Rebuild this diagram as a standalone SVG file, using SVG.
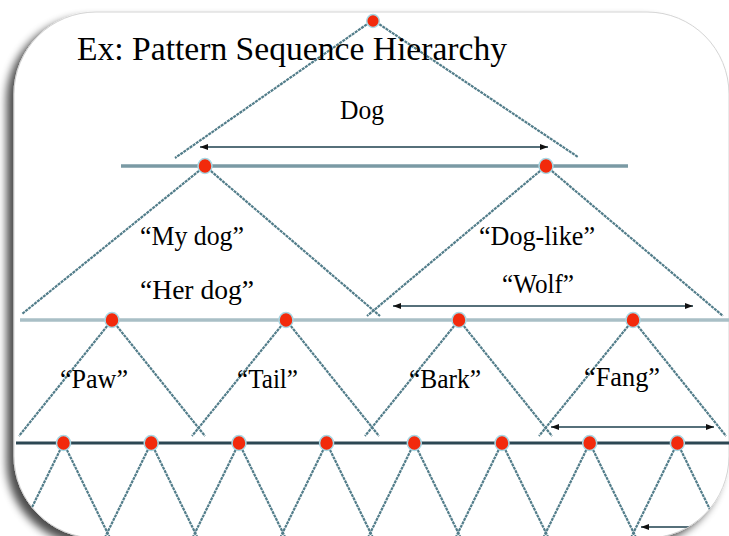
<svg xmlns="http://www.w3.org/2000/svg" width="729" height="536" viewBox="0 0 729 536">
<defs>
<filter id="sh" x="-10%" y="-10%" width="120%" height="120%">
<feGaussianBlur in="SourceAlpha" stdDeviation="4"/>
<feOffset dx="-7" dy="6" result="b"/>
<feComponentTransfer><feFuncA type="linear" slope="0.7"/></feComponentTransfer>
<feMerge><feMergeNode/><feMergeNode in="SourceGraphic"/></feMerge>
</filter>
<clipPath id="frameClip"><rect x="14" y="12" width="715" height="526" rx="82" ry="82"/></clipPath>
<marker id="ah" viewBox="0 0 8 6" refX="8" refY="3" markerWidth="8" markerHeight="6" markerUnits="userSpaceOnUse" orient="auto-start-reverse">
<path d="M0,0 L8,3 L0,6 z" fill="#111"/>
</marker>
<style>
.edge{stroke:#527d8a;stroke-width:2.2;fill:none;stroke-dasharray:3 0.8}
.bar1{stroke:#7a9aa4;stroke-width:3.5}
.bar2{stroke:#a9bfc6;stroke-width:3.5}
.bar3{stroke:#2c4753;stroke-width:3}
.arr{stroke:#56707a;stroke-width:2.2;fill:none}
.node{fill:#f22a0c;stroke:#a8d8e4;stroke-width:1.5}
text{font-family:"Liberation Serif","Times New Roman",serif;fill:#000}
.lbl{font-size:28px}
.title{font-size:34px}
</style>
</defs>
<rect x="0" y="0" width="729" height="536" fill="#ffffff"/>
<rect x="14" y="12" width="715" height="526" rx="82" ry="82" fill="#ffffff" stroke="#d4d4d4" stroke-width="1" filter="url(#sh)"/>
<g clip-path="url(#frameClip)">
<g id="connectors">
<line class="edge" x1="373" y1="20" x2="175" y2="158"/>
<line class="edge" x1="373" y1="20" x2="578" y2="157"/>
<line class="bar1" x1="121" y1="166" x2="628" y2="166"/>
<line class="edge" x1="205" y1="166" x2="22" y2="314"/>
<line class="edge" x1="205" y1="166" x2="380" y2="316"/>
<line class="edge" x1="546" y1="166" x2="367" y2="316"/>
<line class="edge" x1="546" y1="166" x2="723" y2="316"/>
<line class="bar2" x1="20" y1="320" x2="729" y2="320"/>
<line class="edge" x1="112" y1="320" x2="19" y2="436"/>
<line class="edge" x1="112" y1="320" x2="205" y2="436"/>
<line class="edge" x1="286" y1="320" x2="192" y2="436"/>
<line class="edge" x1="286" y1="320" x2="379" y2="436"/>
<line class="edge" x1="459" y1="320" x2="365" y2="436"/>
<line class="edge" x1="459" y1="320" x2="552" y2="436"/>
<line class="edge" x1="633" y1="320" x2="539" y2="436"/>
<line class="edge" x1="633" y1="320" x2="726" y2="436"/>
<line class="bar3" x1="16" y1="443" x2="729" y2="443"/>
<line class="edge" x1="63.5" y1="443" x2="15.5" y2="541"/>
<line class="edge" x1="63.5" y1="443" x2="111.5" y2="541"/>
<line class="edge" x1="151.2" y1="443" x2="103.2" y2="541"/>
<line class="edge" x1="151.2" y1="443" x2="199.2" y2="541"/>
<line class="edge" x1="239" y1="443" x2="191" y2="541"/>
<line class="edge" x1="239" y1="443" x2="287" y2="541"/>
<line class="edge" x1="326.6" y1="443" x2="278.6" y2="541"/>
<line class="edge" x1="326.6" y1="443" x2="374.6" y2="541"/>
<line class="edge" x1="414.3" y1="443" x2="366.3" y2="541"/>
<line class="edge" x1="414.3" y1="443" x2="462.3" y2="541"/>
<line class="edge" x1="502" y1="443" x2="454" y2="541"/>
<line class="edge" x1="502" y1="443" x2="550" y2="541"/>
<line class="edge" x1="589.7" y1="443" x2="541.7" y2="541"/>
<line class="edge" x1="589.7" y1="443" x2="637.7" y2="541"/>
<line class="edge" x1="677.4" y1="443" x2="629.4" y2="541"/>
<line class="edge" x1="677.4" y1="443" x2="725.4" y2="541"/>
<line class="arr" x1="200" y1="147" x2="548" y2="147" marker-start="url(#ah)" marker-end="url(#ah)"/>
<line class="arr" x1="393" y1="306" x2="693" y2="306" marker-start="url(#ah)" marker-end="url(#ah)"/>
<line class="arr" x1="551" y1="427" x2="714" y2="427" marker-start="url(#ah)" marker-end="url(#ah)"/>
<line class="arr" x1="641" y1="527" x2="740" y2="527" marker-start="url(#ah)"/>
</g>
<g id="n-root"><ellipse class="node" cx="373" cy="21" rx="6.3" ry="6.5"/></g>
<g id="n-dog1"><ellipse class="node" cx="205" cy="166" rx="7" ry="7.5"/></g>
<g id="n-dog2"><ellipse class="node" cx="546" cy="166" rx="7" ry="7.5"/></g>
<g id="n-l2a"><ellipse class="node" cx="112" cy="320" rx="7" ry="7.5"/></g>
<g id="n-l2b"><ellipse class="node" cx="286" cy="320" rx="7" ry="7.5"/></g>
<g id="n-l2c"><ellipse class="node" cx="459" cy="320" rx="7" ry="7.5"/></g>
<g id="n-l2d"><ellipse class="node" cx="633" cy="320" rx="7" ry="7.5"/></g>
<g id="n-l3a"><ellipse class="node" cx="63.5" cy="443" rx="7" ry="7.5"/></g>
<g id="n-l3b"><ellipse class="node" cx="151.2" cy="443" rx="7" ry="7.5"/></g>
<g id="n-l3c"><ellipse class="node" cx="239" cy="443" rx="7" ry="7.5"/></g>
<g id="n-l3d"><ellipse class="node" cx="326.6" cy="443" rx="7" ry="7.5"/></g>
<g id="n-l3e"><ellipse class="node" cx="414.3" cy="443" rx="7" ry="7.5"/></g>
<g id="n-l3f"><ellipse class="node" cx="502" cy="443" rx="7" ry="7.5"/></g>
<g id="n-l3g"><ellipse class="node" cx="589.7" cy="443" rx="7" ry="7.5"/></g>
<g id="n-l3h"><ellipse class="node" cx="677.4" cy="443" rx="7" ry="7.5"/></g>
</g>
<g id="labels">
<text class="title" x="77" y="60" textLength="430" lengthAdjust="spacingAndGlyphs">Ex: Pattern Sequence Hierarchy</text>
<text class="lbl" x="340" y="119" textLength="44" lengthAdjust="spacingAndGlyphs">Dog</text>
<text class="lbl" x="140" y="245" textLength="104" lengthAdjust="spacingAndGlyphs">“My dog”</text>
<text class="lbl" x="140" y="299" textLength="114" lengthAdjust="spacingAndGlyphs">“Her dog”</text>
<text class="lbl" x="479" y="245" textLength="116" lengthAdjust="spacingAndGlyphs">“Dog-like”</text>
<text class="lbl" x="502" y="293" textLength="72" lengthAdjust="spacingAndGlyphs">“Wolf”</text>
<text class="lbl" x="60" y="388" textLength="68" lengthAdjust="spacingAndGlyphs">“Paw”</text>
<text class="lbl" x="237" y="388" textLength="61" lengthAdjust="spacingAndGlyphs">“Tail”</text>
<text class="lbl" x="409" y="388" textLength="72" lengthAdjust="spacingAndGlyphs">“Bark”</text>
<text class="lbl" x="584" y="386" textLength="76" lengthAdjust="spacingAndGlyphs">“Fang”</text>
</g>
</svg>
